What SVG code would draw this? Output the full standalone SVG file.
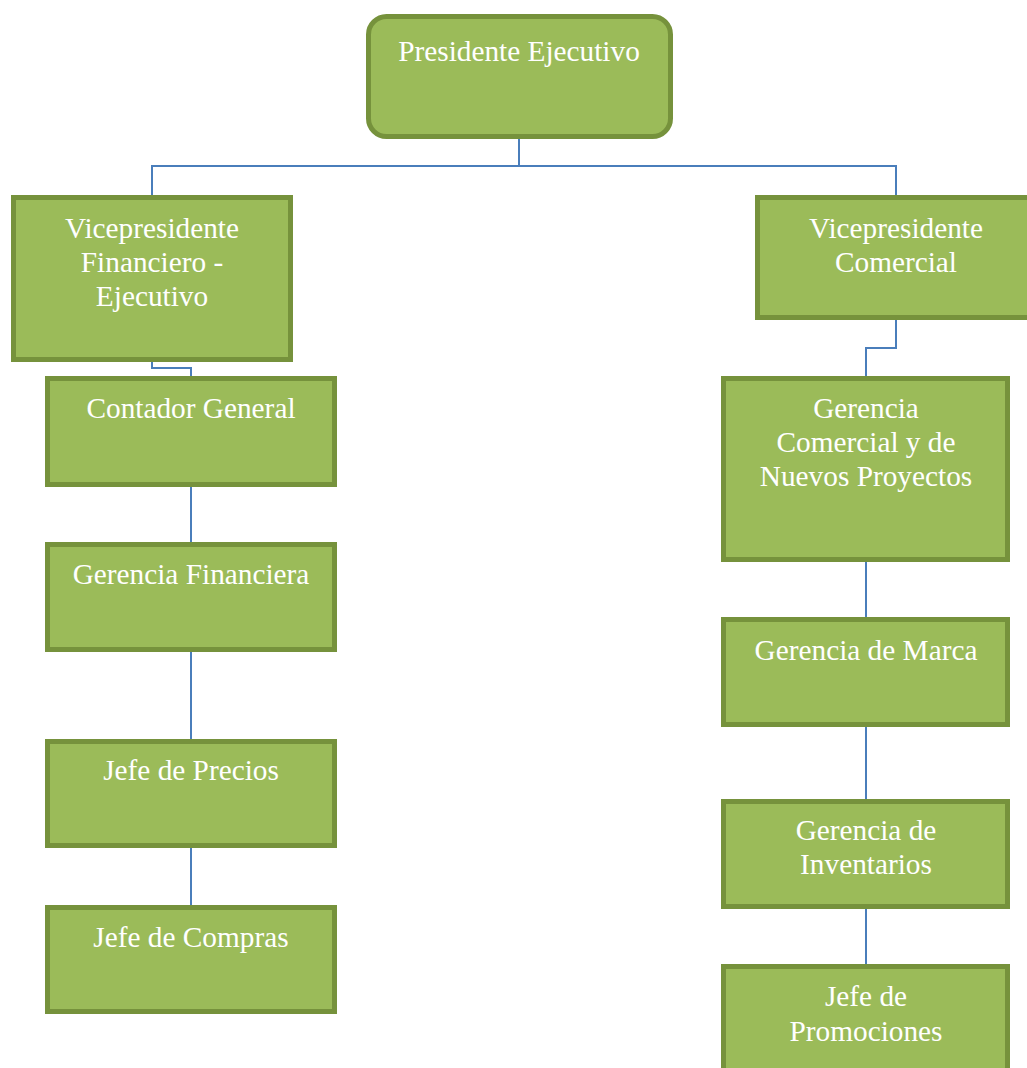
<svg xmlns="http://www.w3.org/2000/svg" width="1027" height="1068" viewBox="0 0 1027 1068">
<style>
.box{fill:#9BBB59;stroke:#76923C;stroke-width:5}
.t{font-family:'Liberation Serif','Times New Roman',serif;font-size:29.3px;fill:#FFFFFF;text-anchor:middle}
.c{fill:none;stroke:#4A7EBB;stroke-width:2}
</style>
<rect width="1027" height="1068" fill="#FFFFFF"/>
<g id="connectors">
<polyline class="c" points="519,139 519,166 152,166 152,196"/>
<polyline class="c" points="519,166 896,166 896,196"/>
<polyline class="c" points="152,362 152,368 191,368 191,378"/>
<line class="c" x1="191" y1="487" x2="191" y2="543"/>
<line class="c" x1="191" y1="652" x2="191" y2="740"/>
<line class="c" x1="191" y1="848" x2="191" y2="906"/>
<polyline class="c" points="896,320 896,348 866,348 866,378"/>
<line class="c" x1="866" y1="562" x2="866" y2="618"/>
<line class="c" x1="866" y1="727" x2="866" y2="800"/>
<line class="c" x1="866" y1="909" x2="866" y2="965"/>
</g>
<g id="presidente">
<rect class="box" x="368.5" y="16.5" width="302" height="120" rx="18"/>
<text class="t" x="519" y="61">Presidente Ejecutivo</text>
</g>
<g id="vp-financiero">
<rect class="box" x="13.5" y="197.5" width="277" height="162"/>
<text class="t" x="152" y="238">Vicepresidente</text>
<text class="t" x="152" y="272">Financiero -</text>
<text class="t" x="152" y="306">Ejecutivo</text>
</g>
<g id="vp-comercial">
<rect class="box" x="757.5" y="197.5" width="275" height="120"/>
<text class="t" x="896" y="238">Vicepresidente</text>
<text class="t" x="896" y="272">Comercial</text>
</g>
<g id="contador-general">
<rect class="box" x="47.5" y="378.5" width="287" height="106"/>
<text class="t" x="191" y="418">Contador General</text>
</g>
<g id="gerencia-financiera">
<rect class="box" x="47.5" y="544.5" width="287" height="105"/>
<text class="t" x="191" y="584">Gerencia Financiera</text>
</g>
<g id="jefe-precios">
<rect class="box" x="47.5" y="741.5" width="287" height="104"/>
<text class="t" x="191" y="780">Jefe de Precios</text>
</g>
<g id="jefe-compras">
<rect class="box" x="47.5" y="907.5" width="287" height="104"/>
<text class="t" x="191" y="947">Jefe de Compras</text>
</g>
<g id="gerencia-comercial">
<rect class="box" x="723.5" y="378.5" width="284" height="181"/>
<text class="t" x="866" y="418">Gerencia</text>
<text class="t" x="866" y="452">Comercial y de</text>
<text class="t" x="866" y="486">Nuevos Proyectos</text>
</g>
<g id="gerencia-marca">
<rect class="box" x="723.5" y="619.5" width="284" height="105"/>
<text class="t" x="866" y="660">Gerencia de Marca</text>
</g>
<g id="gerencia-inventarios">
<rect class="box" x="723.5" y="801.5" width="284" height="105"/>
<text class="t" x="866" y="840">Gerencia de</text>
<text class="t" x="866" y="874">Inventarios</text>
</g>
<g id="jefe-promociones">
<rect class="box" x="723.5" y="966.5" width="284" height="110"/>
<text class="t" x="866" y="1006">Jefe de</text>
<text class="t" x="866" y="1041">Promociones</text>
</g>
</svg>
